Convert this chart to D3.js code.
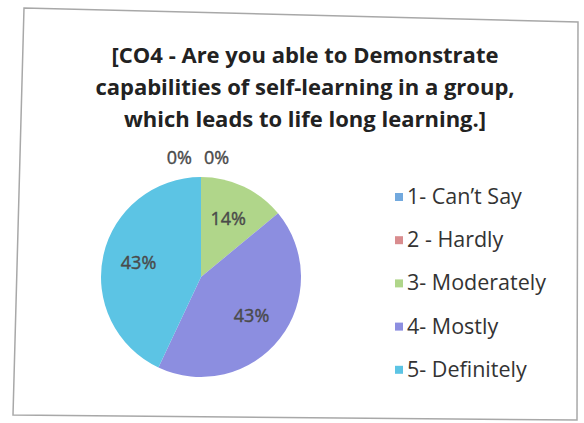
<!DOCTYPE html>
<html>
<head>
<meta charset="utf-8">
<script src="https://cdn.jsdelivr.net/npm/d3@7"></script>
<style>
  body { margin: 0; background: #fff; }
  svg { display: block; }
  .title { font-family: "Open Sans", sans-serif; font-weight: bold; font-size: 22px; fill: #222; }
  .lbl { font-family: "Open Sans", sans-serif; font-size: 18px; fill: #4a4a4a; stroke: #4a4a4a; stroke-width: 0.4px; }
  .leg { font-family: "Open Sans", sans-serif; font-size: 21.5px; fill: #333; }
</style>
</head>
<body>
<div class="pie-chart"></div>
<script>
var categories = ["1- Can\u2019t Say", "2 - Hardly", "3- Moderately", "4- Mostly", "5- Definitely"];
var values = [0, 0, 14, 43, 43];
var colors = ["#72a9de", "#d98c8e", "#b0d68a", "#8c8ee0", "#5cc4e4"];
var titleLines = ["[CO4 - Are you able to Demonstrate", "capabilities of self-learning in a group,", "which leads to life long learning.]"];

var width = 584, height = 423, radius = 100;
var cx = 201, cy = 277;

var svg = d3.select('.pie-chart').append("svg").attr("width", width).attr("height", height);

// scanned frame, slightly skewed
svg.append("path")
  .attr("d", "M24,8 L578,22 L577,420 L13,415 Z")
  .attr("fill", "none").attr("stroke", "#a8a8a8").attr("stroke-width", 1.5);

svg.selectAll(".title").data(titleLines).enter().append("text")
  .attr("class", "title").attr("text-anchor", "middle")
  .attr("x", 305).attr("y", function(d, i) { return 63 + i * 32; })
  .text(function(d) { return d; });

var data = categories.map(function(c, i) { return { name: c, value: values[i], color: colors[i] }; });

var pie = d3.pie().sort(null).value(function(d) { return d.value; });
var arc = d3.arc().innerRadius(0).outerRadius(radius);
var labelArc = d3.arc().innerRadius(radius * 0.64).outerRadius(radius * 0.64);
var outerArc = d3.arc().innerRadius(radius * 1.19).outerRadius(radius * 1.19);

var g = svg.append("g").attr("transform", "translate(" + cx + "," + cy + ")");
var arcs = pie(data);

g.selectAll("path").data(arcs).enter().append("path")
  .attr("d", arc)
  .attr("fill", function(d) { return d.data.color; });

var zeroCount = 0;
g.selectAll(".lbl").data(arcs).enter().append("text")
  .attr("class", "lbl")
  .each(function(d) {
    var t = d3.select(this), p;
    if (d.data.value === 0) {
      p = outerArc.centroid(d);
      var left = zeroCount++ === 0;
      t.attr("text-anchor", left ? "end" : "start")
       .attr("x", p[0] + (left ? -9 : 3)).attr("y", p[1] + 6);
    } else {
      p = labelArc.centroid(d);
      t.attr("text-anchor", "middle").attr("x", p[0]).attr("y", p[1] + 6);
    }
  })
  .text(function(d) { return d.data.value + "%"; });

var legend = svg.append("g").attr("transform", "translate(395,197)");
var item = legend.selectAll("g").data(data).enter().append("g")
  .attr("transform", function(d, i) { return "translate(0," + i * 43.2 + ")"; });
item.append("rect").attr("x", 0).attr("y", -4).attr("width", 8).attr("height", 8)
  .attr("fill", function(d) { return d.color; });
item.append("text").attr("class", "leg").attr("x", 12).attr("y", 7)
  .text(function(d) { return d.name; });
</script>
</body>
</html>
